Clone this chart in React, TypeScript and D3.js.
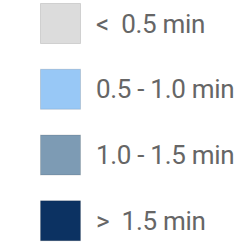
import * as d3 from 'd3'
import { useEffect, useRef } from 'react'

const LABELS = ['<  0.5 min', '0.5 - 1.0 min', '1.0 - 1.5 min', '>  1.5 min']
const COLORS = ['#dcdcdc', '#98c8f6', '#7d9bb4', '#0c3262']

const W = 241
const H = 243
const SWATCH = 40

export default function App() {
  const svgRef = useRef<SVGSVGElement>(null)

  useEffect(() => {
    if (!svgRef.current) return
    const svg = d3.select(svgRef.current)
    svg.selectAll('*').remove()

    const y = d3.scaleBand<string>()
      .domain(LABELS)
      .range([3, 266])
    const color = d3.scaleOrdinal<string, string>().domain(LABELS).range(COLORS)

    const rows = svg.selectAll<SVGGElement, string>('.row')
      .data(LABELS)
      .enter()
      .append('g')
      .attr('class', 'row')
      .attr('transform', d => `translate(40, ${y(d)})`)

    rows.append('rect')
      .attr('x', 0.5)
      .attr('y', 0.5)
      .attr('width', SWATCH)
      .attr('height', SWATCH)
      .attr('fill', d => color(d))
      .attr('stroke', 'rgba(0,0,0,0.12)')
      .attr('stroke-width', 1)

    rows.append('text')
      .attr('x', 56)
      .attr('y', SWATCH / 2 + 0.5)
      .attr('dominant-baseline', 'central')
      .attr('font-family', 'Roboto')
      .attr('font-size', 26)
      .attr('letter-spacing', -0.3)
      .attr('fill', '#666')
      .style('white-space', 'pre')
      .text(d => d)
  }, [])

  return (
    <svg ref={svgRef} width={W} height={H} style={{ position: 'absolute', left: 0, top: 0 }} />
  )
}
